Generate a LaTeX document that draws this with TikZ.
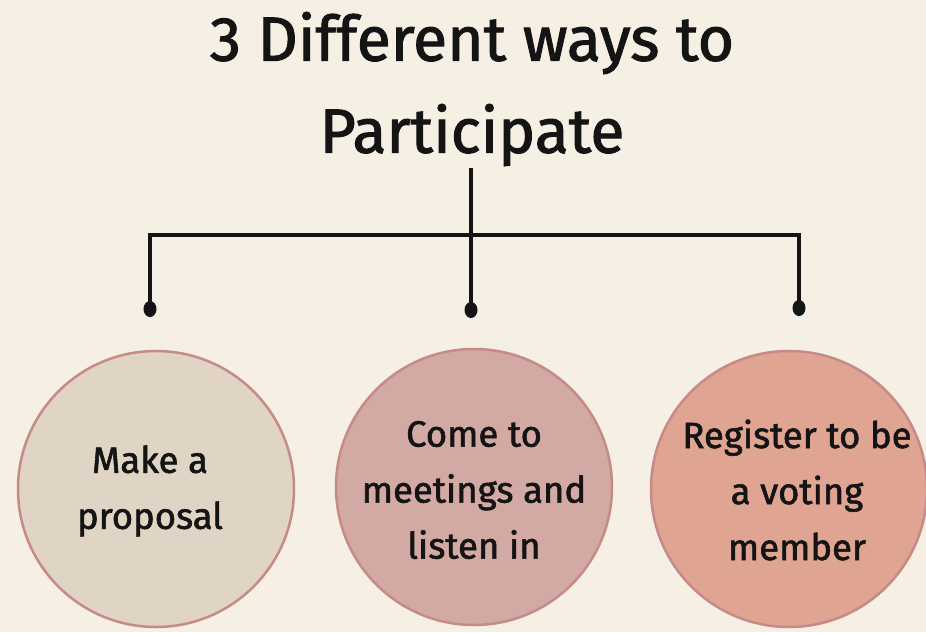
\documentclass[tikz,border=0pt]{standalone}
\usepackage{fontspec}
\setmainfont{Fira Sans}[BoldFont={Fira Sans},BoldFeatures={FakeBold=1.6}]
\definecolor{bg}{HTML}{F5EFE4}
\definecolor{fillA}{HTML}{E0D5C4}
\definecolor{fillB}{HTML}{D3A9A3}
\definecolor{fillC}{HTML}{DFA492}
\definecolor{rim}{HTML}{C68A88}
\definecolor{ink}{HTML}{141414}
\usetikzlibrary{shapes.geometric}
\begin{document}
\begin{tikzpicture}[x=1pt,y=-1pt,
  bubble/.style={circle,draw=rim,line width=2.5pt,minimum size=276pt,inner sep=0pt},
  label/.style={text=ink,align=center,font=\bfseries\fontsize{36.5}{56}\selectfont},
  wire/.style={draw=ink,line width=3.4pt},
  knob/.style={ellipse,fill=ink,minimum width=13pt,minimum height=16pt,inner sep=0pt}]
\fill[bg] (0,0) rectangle (926,632);
\useasboundingbox (0,0) rectangle (926,632);
\clip (0,0) rectangle (926,632);
\node[text=ink,font=\bfseries\fontsize{62.5}{92}\selectfont,align=center] (title) at (472,89)
  {3 Different ways to\\Participate};
\coordinate (top) at (471,168);
\coordinate (hl) at (150,235);
\coordinate (hr) at (799,235);
\node[knob] (d1) at (150,309) {};
\node[knob] (d2) at (471,310) {};
\node[knob] (d3) at (799,308) {};
\draw[wire] (top) -- (d2.center);
\draw[wire] (d1.center) -- (hl) -- (hr) -- (d3.center);
\node[bubble,fill=fillA] (c1) at (156,489) {};
\node[bubble,fill=fillB] (c2) at (474,487) {};
\node[bubble,fill=fillC] (c3) at (789,489) {};
\node[label] (t1) at (150,491) {Make a\\proposal};
\node[label] (t2) at (474,490) {Come to\\meetings and\\listen in};
\node[label] (t3) at (797,490) {Register to be\\a voting\\member};
\end{tikzpicture}
\end{document}
